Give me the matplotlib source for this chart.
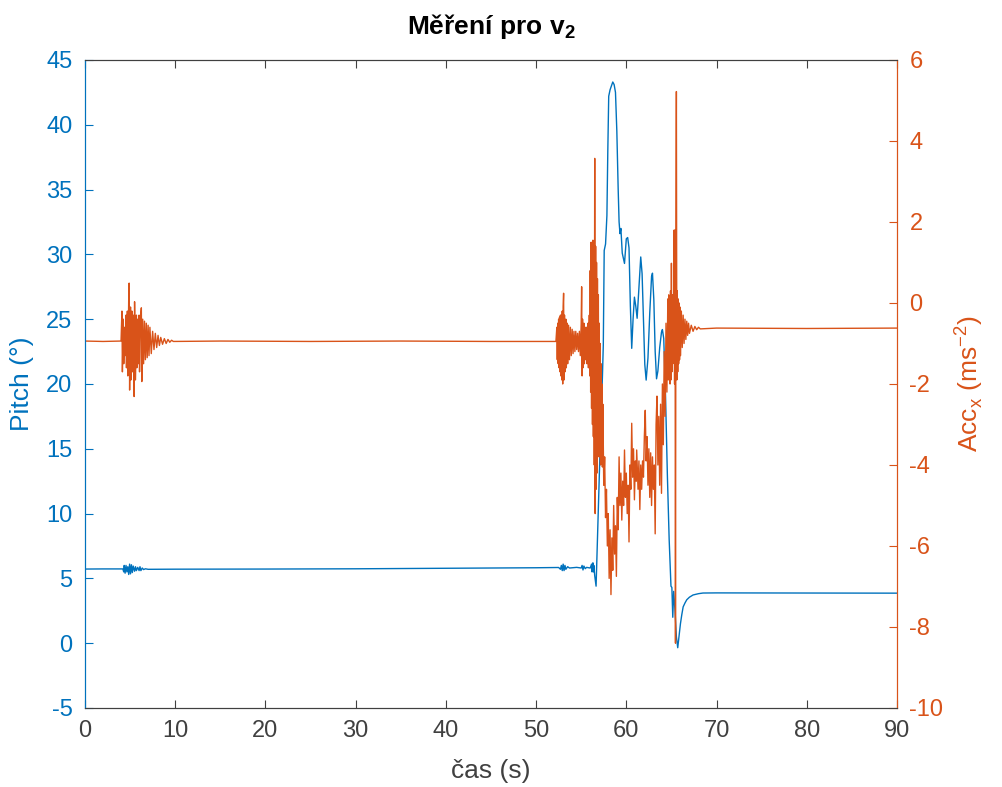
import numpy as np
import matplotlib.pyplot as plt

# barvy jako v MATLABu (yyaxis)
modra = '#0072BD'
oranzova = '#D95319'
seda = '#404040'

# Pitch (deg), (cas, hodnota)
pitch_klid = [(0.0, 5.72), (2.0, 5.73), (4.2, 5.73), (4.3, 5.5), (4.35, 6.0), (4.45, 5.4),
              (4.55, 6.0), (4.65, 5.5), (4.75, 5.9), (4.85, 5.3), (4.95, 6.1), (5.05, 5.35),
              (5.15, 6.05), (5.25, 5.45), (5.35, 5.95), (5.5, 5.55), (5.6, 5.9), (5.7, 5.6),
              (5.85, 5.85), (6.0, 5.6), (6.1, 5.9), (6.2, 5.6), (6.35, 5.8), (6.5, 5.68),
              (6.7, 5.74), (7.0, 5.7), (10.0, 5.71), (20.0, 5.72), (30.0, 5.74), (40.0, 5.78),
              (50.0, 5.82), (52.5, 5.84)]
pitch_jizda = [(52.7, 5.7), (52.8, 6.0), (52.9, 5.6), (53.0, 6.1), (53.1, 5.6), (53.2, 6.0),
               (53.3, 5.7), (53.5, 5.9), (53.7, 5.8), (54.5, 5.85), (55.0, 5.8), (55.1, 6.0),
               (55.2, 5.65), (55.3, 5.95), (55.45, 5.75), (55.6, 5.85), (56.0, 5.8), (56.15, 6.1),
               (56.2, 5.5), (56.3, 6.2), (56.35, 5.5), (56.4, 6.0), (56.5, 5.2), (56.65, 4.4),
               (56.8, 8.0), (57.0, 13.0), (57.2, 17.5), (57.35, 20.5), (57.45, 23.0),
               (57.55, 30.3), (57.7, 30.8), (57.85, 33.0), (57.95, 38.0), (58.05, 42.2),
               (58.2, 42.7), (58.35, 43.0), (58.5, 43.3), (58.65, 43.1), (58.8, 42.5),
               (58.95, 39.5), (59.1, 35.0), (59.2, 32.5), (59.3, 31.6), (59.4, 32.0),
               (59.55, 30.1), (59.8, 29.3), (60.0, 31.2), (60.15, 31.3), (60.3, 30.5),
               (60.45, 26.0), (60.6, 22.75), (60.75, 25.0), (60.9, 26.7), (61.05, 26.0),
               (61.2, 25.07), (61.4, 27.5), (61.6, 29.8), (61.75, 28.5), (61.9, 25.0),
               (62.05, 21.5), (62.2, 20.3), (62.4, 22.0), (62.6, 25.5), (62.8, 28.3),
               (62.9, 28.55), (63.05, 26.5), (63.2, 22.5), (63.35, 20.4), (63.5, 21.0),
               (63.7, 22.8), (63.9, 24.0), (64.0, 24.2), (64.15, 23.5), (64.35, 19.0),
               (64.55, 13.0), (64.75, 8.0), (64.95, 4.4), (65.05, 4.3), (65.15, 2.0),
               (65.25, 4.0), (65.4, 2.5), (65.55, 0.5), (65.7, -0.35), (65.85, 0.6),
               (66.0, 1.5), (66.15, 2.2), (66.3, 2.8), (66.5, 3.1), (66.7, 3.35), (67.0, 3.55),
               (67.4, 3.72), (68.0, 3.82), (68.5, 3.87), (70.0, 3.88), (80.0, 3.87), (90.0, 3.86)]

# Acc_x (m/s^2), (cas, hodnota)
acc_klid = [(0.0, -0.94), (2.0, -0.95), (4.0, -0.94)]
acc_start = [(4.1, -0.2), (4.15, -1.7), (4.25, -0.4), (4.3, -1.5), (4.4, -0.6), (4.45, -1.3),
             (4.55, -0.3), (4.6, -1.6), (4.7, -0.2), (4.75, -1.8), (4.85, 0.1), (4.9, 0.49),
             (4.95, -2.15), (5.05, -0.1), (5.1, -1.9), (5.2, -0.2), (5.25, -1.7), (5.35, -0.3),
             (5.45, -2.31), (5.5, 0.03), (5.6, -1.9), (5.7, -0.3), (5.75, -1.6), (5.85, -0.4),
             (5.9, -1.5), (6.0, -0.3), (6.05, -1.7), (6.15, -0.4), (6.25, -0.12), (6.3, -1.94),
             (6.4, -0.4), (6.5, -1.5), (6.6, -0.45), (6.7, -1.4), (6.8, -0.5), (6.9, -1.35),
             (7.0, -0.55), (7.1, -1.3), (7.2, -0.6), (7.35, -1.25), (7.5, -0.7), (7.65, -1.15),
             (7.8, -0.75), (7.95, -1.1), (8.1, -0.8), (8.25, -1.05), (8.4, -0.85), (8.6, -1.02),
             (8.8, -0.88), (9.0, -1.0), (9.2, -0.9), (9.4, -0.97), (9.6, -0.92), (9.8, -0.95)]
acc_cekani = [(15.0, -0.94), (25.0, -0.95), (35.0, -0.94), (45.0, -0.95), (52.2, -0.95)]
acc_jizda = [(52.3, -0.6), (52.35, -1.4), (52.4, -0.5), (52.45, -1.5), (52.5, -0.4), (52.55, -1.6),
             (52.6, -0.35), (52.65, -1.7), (52.7, -0.3), (52.75, -1.8), (52.8, -0.3), (52.85, -1.9),
             (52.9, -0.2), (52.95, -2.0), (53.0, -0.1), (53.05, 0.24), (53.1, -1.9), (53.15, -0.3),
             (53.2, -1.7), (53.3, -0.4), (53.35, -1.6), (53.45, -0.5), (53.5, -1.5), (53.6, -0.55),
             (53.7, -1.4), (53.8, -0.6), (53.9, -1.3), (54.0, -0.65), (54.1, -1.25), (54.2, -0.7),
             (54.3, -1.2), (54.4, -0.7), (54.5, -1.15), (54.6, -0.75), (54.7, -1.2), (54.8, -0.7),
             (54.9, -1.3), (55.0, -0.5), (55.05, 0.4), (55.1, -1.8), (55.15, -0.4), (55.2, -1.6),
             (55.3, -0.5), (55.35, -1.5), (55.45, -0.6), (55.5, -1.4), (55.6, -0.6), (55.65, -1.5),
             (55.75, -0.5), (55.8, -1.6), (55.9, -0.3), (55.95, -1.8), (56.0, 0.8), (56.05, -2.2),
             (56.1, 1.5), (56.15, -2.6), (56.2, 1.3), (56.25, -3.0), (56.3, 1.55), (56.35, -3.3),
             (56.4, 1.2), (56.45, -4.0), (56.5, 3.57), (56.55, -5.2), (56.6, 1.4), (56.65, -4.6),
             (56.7, 1.0), (56.75, -4.2), (56.8, 0.6), (56.85, -3.8), (56.9, 0.2), (56.95, -3.6),
             (57.0, -0.5), (57.05, -3.8), (57.1, -1.0), (57.15, -4.0), (57.2, -1.5), (57.25, -3.9),
             (57.3, -2.0), (57.35, -4.05), (57.4, -2.5), (57.5, -4.5), (57.6, -3.8), (57.7, -5.3),
             (57.8, -4.6), (57.9, -6.0), (58.0, -5.2), (58.1, -6.8), (58.2, -5.6), (58.3, -7.2),
             (58.4, -5.8), (58.5, -6.6), (58.6, -5.0), (58.7, -6.2), (58.8, -5.5), (58.9, -6.75),
             (59.0, -4.8), (59.1, -5.6), (59.2, -3.8), (59.3, -5.0), (59.4, -4.2), (59.5, -5.36),
             (59.6, -4.4), (59.7, -5.0), (59.8, -3.63), (59.9, -4.8), (60.0, -4.2), (60.1, -5.2),
             (60.2, -4.5), (60.3, -5.9), (60.4, -4.0), (60.5, -4.6), (60.6, -2.97), (60.7, -4.3),
             (60.8, -3.6), (60.9, -4.86), (61.0, -3.9), (61.1, -4.4), (61.15, -3.63), (61.3, -4.6),
             (61.4, -3.9), (61.5, -5.1), (61.6, -4.0), (61.7, -4.6), (61.8, -3.9), (61.9, -4.3),
             (62.0, -3.3), (62.1, -2.65), (62.2, -3.9), (62.3, -3.3), (62.4, -4.5), (62.5, -3.6),
             (62.6, -4.8), (62.7, -3.7), (62.8, -5.0), (62.9, -3.8), (63.0, -4.6), (63.1, -4.0),
             (63.2, -5.7), (63.3, -3.0), (63.4, -2.3), (63.5, -4.0), (63.6, -2.8), (63.7, -4.5),
             (63.8, -2.5), (63.9, -4.7), (64.0, -2.0), (64.1, -3.5), (64.2, -1.2), (64.3, -2.8),
             (64.4, -0.5), (64.5, -2.2), (64.6, 0.1), (64.65, -1.9), (64.7, 0.2), (64.75, -1.8),
             (64.8, 0.0), (64.85, -2.0), (64.9, 0.3), (64.95, -1.9), (65.0, 0.98), (65.05, -1.7),
             (65.1, 0.2), (65.15, -1.5), (65.2, 0.1), (65.25, -1.4), (65.3, 1.8), (65.35, -2.0),
             (65.4, 1.8), (65.45, -8.4), (65.5, 1.8), (65.55, 5.22), (65.6, -1.9), (65.65, 0.3),
             (65.7, -1.7), (65.75, 0.1), (65.8, -1.5), (65.85, 0.0), (65.9, -1.4), (65.95, -0.1),
             (66.0, -1.3), (66.1, -0.2), (66.2, -1.1), (66.3, -0.3), (66.4, -1.0), (66.5, -0.4),
             (66.6, -0.9), (66.7, -0.45), (66.8, -0.8), (66.9, -0.5), (67.0, -0.75), (67.2, -0.55),
             (67.4, -0.7), (67.6, -0.58), (67.8, -0.66), (68.0, -0.6), (68.2, -0.64)]
acc_konec = [(70.0, -0.62), (80.0, -0.63), (90.0, -0.62)]

pitch = np.array(pitch_klid + pitch_jizda)
acc = np.array(acc_klid + acc_start + acc_cekani + acc_jizda + acc_konec)

plt.rcParams['font.family'] = ['Liberation Sans', 'DejaVu Sans']
plt.rcParams['mathtext.fontset'] = 'custom'
plt.rcParams['mathtext.rm'] = 'Liberation Sans'
plt.rcParams['mathtext.bf'] = 'Liberation Sans:bold'
plt.rcParams['axes.unicode_minus'] = False

fig, ax1 = plt.subplots(figsize=(10.03, 7.87), dpi=100)
fig.subplots_adjust(left=0.0847, right=0.8943, bottom=0.1004, top=0.9238)
ax2 = ax1.twinx()

ax1.plot(pitch[:, 0], pitch[:, 1], color=modra, lw=1.0)
ax2.plot(acc[:, 0], acc[:, 1], color=oranzova, lw=1.0)

ax1.set_xlim(0, 90)
ax1.set_ylim(-5, 45)
ax2.set_ylim(-10, 6)
ax1.set_xticks(np.arange(0, 91, 10))
ax1.set_yticks(np.arange(-5, 46, 5))
ax2.set_yticks(np.arange(-10, 7, 2))

ax1.tick_params(axis='x', direction='in', top=True, colors=seda, labelsize=17, length=6, pad=9)
ax1.tick_params(axis='y', direction='in', colors=modra, labelsize=17, length=6, pad=9)
ax2.tick_params(axis='y', direction='in', colors=oranzova, labelsize=17, length=6, pad=9)
ax2.tick_params(axis='x', top=False, bottom=False)

for a in (ax1, ax2):
    a.spines['top'].set_color(seda)
    a.spines['bottom'].set_color(seda)
    a.spines['left'].set_color(modra)
    a.spines['right'].set_color(oranzova)

ax1.set_xlabel('čas (s)', fontsize=19, color=seda, labelpad=12)
ax1.set_ylabel('Pitch (°)', fontsize=19, color=modra, labelpad=9)
ax2.set_ylabel(r'Acc$_\mathrm{x}$ (ms$^\mathrm{-2}$)', fontsize=19, color=oranzova, labelpad=6)
ax1.set_title(r'Měření pro v$_\mathbf{2}$', fontsize=19, fontweight='bold', pad=19)

fig.savefig('out.png', dpi=100)
